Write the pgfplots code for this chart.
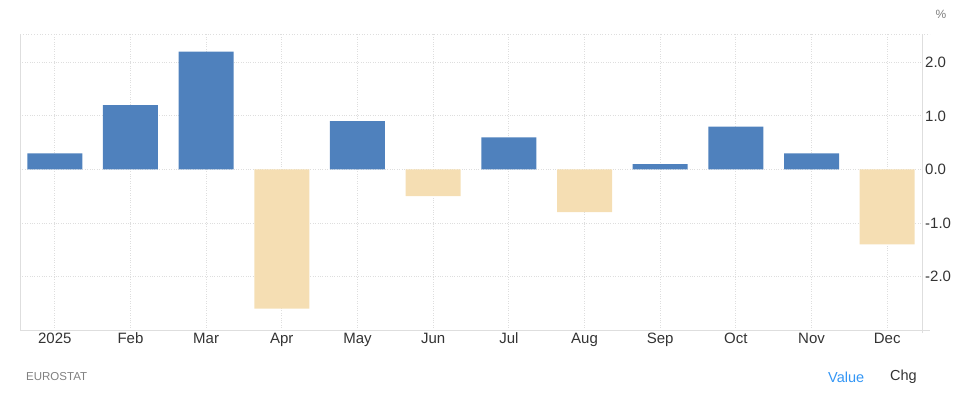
\documentclass[border=0pt]{standalone}
\usepackage{fontspec}
\setmainfont{Liberation Sans}
\usepackage{pgfplots}
\pgfplotsset{compat=1.18}
\definecolor{barblue}{RGB}{79,129,189}
\definecolor{bartan}{RGB}{245,222,179}
\definecolor{gridc}{RGB}{222,222,222}
\definecolor{txt}{RGB}{51,51,51}
\definecolor{srcgray}{RGB}{128,128,128}
\definecolor{valblue}{RGB}{51,150,245}
\begin{document}
\begin{tikzpicture}[x=1pt,y=1pt]
\path[use as bounding box] (0,0) rectangle (961,408);
\begin{axis}[at={(20pt,78pt)}, anchor=south west, scale only axis,
  width=902pt, height=296pt,
  xmin=-0.46, xmax=11.46, ymin=-3, ymax=2.53,
  xtick={0,...,11},
  xticklabels={2025,Feb,Mar,Apr,May,Jun,Jul,Aug,Sep,Oct,Nov,Dec},
  ytick={-2,-1,0,1,2},
  yticklabel pos=right,
  grid=major,
  major grid style={gridc, dotted, line width=0.8pt},
  axis line style={draw=none},
  tick style={draw=none},
  ticklabel style={font=\fontsize{15}{17}\selectfont, text=txt},
  y tick label style={inner sep=1pt, xshift=2pt,
    /pgf/number format/.cd, fixed, fixed zerofill, precision=1, assume math mode=true},
  x tick label style={inner sep=1pt, yshift=-1pt, text height=11pt, text depth=3pt},
  clip=false,
]
\addplot[ybar, bar width=55pt, bar shift=0pt, fill=barblue, draw=none]
  coordinates {(0,0.3) (1,1.2) (2,2.2) (4,0.9) (6,0.6) (8,0.1) (9,0.8) (10,0.3)};
\addplot[ybar, bar width=55pt, bar shift=0pt, fill=bartan, draw=none]
  coordinates {(3,-2.6) (5,-0.5) (7,-0.8) (11,-1.4)};
\end{axis}
\draw[gridc, line width=0.8pt] (20,78) -- (20,374);
\draw[gridc, line width=0.8pt] (20,78) -- (930,78);
\draw[gridc, line width=0.8pt] (922,75) -- (922,374);
\draw[gridc, dotted, line width=0.8pt] (20,374) -- (930,374);
\node[anchor=center, text=srcgray, font=\fontsize{12}{14}\selectfont, inner sep=0pt] at (941,394) {\%};
\node[anchor=west, text=srcgray, font=\fontsize{11.5}{13}\selectfont, inner sep=0pt] at (26,31) {EUROSTAT};
\node[anchor=west, text=valblue, font=\fontsize{14.5}{16}\selectfont, inner sep=0pt] at (828,31) {Value};
\node[anchor=west, text=txt, font=\fontsize{14.5}{16}\selectfont, inner sep=0pt] at (890,31) {Chg};
\end{tikzpicture}
\end{document}
